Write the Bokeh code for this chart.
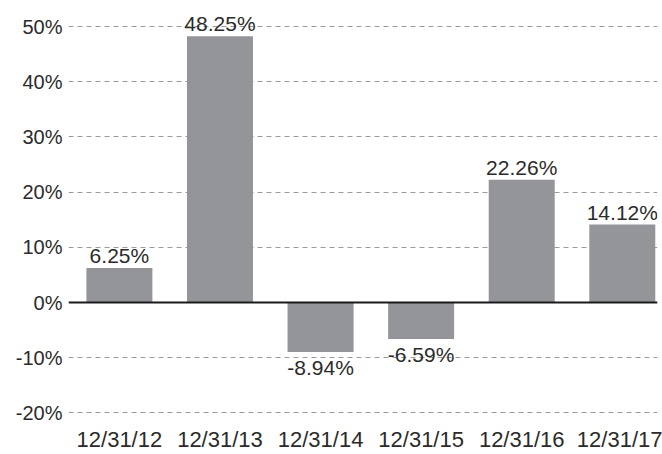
from bokeh.plotting import figure
from bokeh.models import ColumnDataSource, FixedTicker, Span, NumeralTickFormatter
from bokeh.core.properties import value
from bokeh.embed import file_html
from bokeh.resources import INLINE

dates = ["12/31/12", "12/31/13", "12/31/14", "12/31/15", "12/31/16", "12/31/17"]
returns_pct = [6.25, 48.25, -8.94, -6.59, 22.26, 14.12]
y_ticks = [-0.2, -0.1, 0.0, 0.1, 0.2, 0.3, 0.4, 0.5]

FONT = "Liberation Sans"
TEXT = "#2b2b2b"
BAR = "#939598"

xs = list(range(len(dates)))
vals = [v / 100 for v in returns_pct]
labels = ["{:.2f}%".format(v) for v in returns_pct]

pos = ColumnDataSource(dict(x=[x for x, v in zip(xs, vals) if v >= 0],
                            y=[v for v in vals if v >= 0],
                            t=[l for l, v in zip(labels, vals) if v >= 0]))
neg = ColumnDataSource(dict(x=[x for x, v in zip(xs, vals) if v < 0],
                            y=[v for v in vals if v < 0],
                            t=[l for l, v in zip(labels, vals) if v < 0]))

p = figure(width=662, height=454, output_backend="svg", toolbar_location=None,
           x_range=(-0.506, 5.35), y_range=(-0.201, 0.529),
           min_border_left=68, min_border_right=5, min_border_top=10, min_border_bottom=38)
p.outline_line_color = None
p.background_fill_color = "white"

p.vbar(x=xs, top=vals, width=0.656, color=BAR, line_color=None)

p.add_layout(Span(location=0, dimension="width", line_color="#1a1a1a", line_width=2))

p.text(x="x", y="y", text="t", source=pos, text_align="center", text_baseline="bottom",
       y_offset=-1, text_font=value(FONT), text_font_size="21px", text_color=TEXT)
p.text(x="x", y="y", text="t", source=neg, text_align="center", text_baseline="top",
       y_offset=4, text_font=value(FONT), text_font_size="21px", text_color=TEXT)

p.xgrid.grid_line_color = None
p.ygrid.grid_line_color = "#9a9a9a"
p.ygrid.grid_line_dash = "5 4"
p.ygrid.grid_line_width = 1
p.ygrid.level = "underlay"

p.yaxis.ticker = FixedTicker(ticks=y_ticks)
p.yaxis.formatter = NumeralTickFormatter(format="0%")
p.xaxis.ticker = FixedTicker(ticks=xs)
p.xaxis.major_label_overrides = {i: d for i, d in zip(xs, dates)}

for ax in (p.xaxis[0], p.yaxis[0]):
    ax.axis_line_color = None
    ax.major_tick_line_color = None
    ax.minor_tick_line_color = None
    ax.major_tick_out = 0
    ax.major_tick_in = 0
    ax.major_label_text_font = FONT
    ax.major_label_text_color = TEXT
p.yaxis.major_label_text_font_size = "20px"
p.xaxis.major_label_text_font_size = "22px"
p.yaxis.major_label_standoff = 6
p.xaxis.major_label_standoff = 13

open("out.html", "w").write(file_html(p, INLINE))
